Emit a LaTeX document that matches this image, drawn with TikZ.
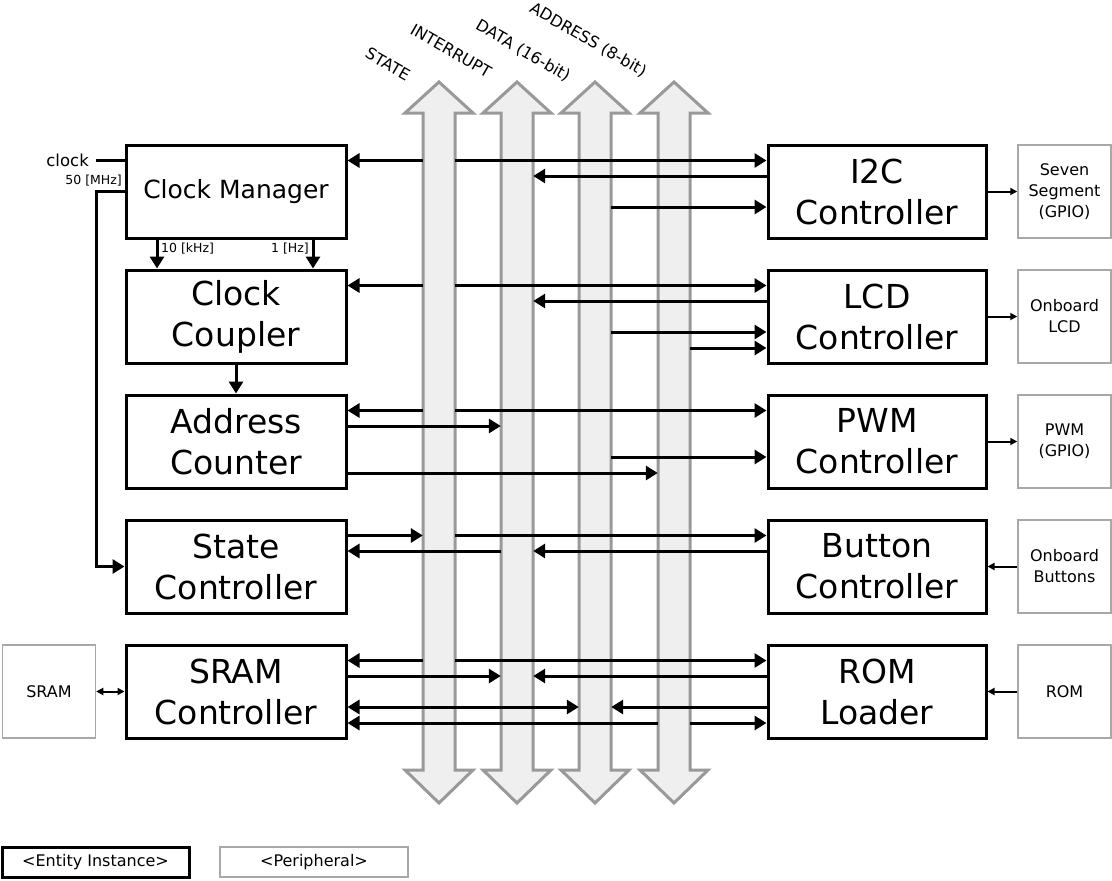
\documentclass[tikz,border=0pt]{standalone}
\usepackage{fontspec}
\setmainfont{DejaVu Sans}
\usetikzlibrary{arrows.meta,positioning,calc}
\definecolor{busgray}{RGB}{153,153,153}
\definecolor{busfill}{RGB}{239,239,239}
\definecolor{perigray}{RGB}{168,168,168}
\tikzset{
  entity/.style={draw=black, line width=3pt, fill=white, align=center,
    minimum width=220pt, minimum height=93pt, inner sep=0pt,
    font=\fontsize{33}{41}\selectfont},
  periph/.style={draw=perigray, line width=1.5pt, fill=white, align=center,
    minimum width=93pt, minimum height=93pt, inner sep=0pt,
    font=\fontsize{16}{21}\selectfont},
  buslabel/.style={rotate=-30, font=\fontsize{16}{19}\selectfont},
  smalllabel/.style={font=\fontsize{12.5}{14}\selectfont, inner sep=1pt},
  bus/.style={draw=busgray, fill=busfill, line width=3pt, line join=miter},
  arr/.style={-{Triangle[length=12pt,width=14pt]}, line width=3pt},
  darr/.style={{Triangle[length=12pt,width=14pt]}-{Triangle[length=12pt,width=14pt]}, line width=3pt},
  thinarr/.style={-{Triangle[length=7pt,width=7pt]}, line width=2pt},
  thindarr/.style={{Triangle[length=7pt,width=7pt]}-{Triangle[length=7pt,width=7pt]}, line width=2pt}
}
\begin{document}
\begin{tikzpicture}[x=1pt,y=-1pt]
  \useasboundingbox (0,0) rectangle (1112,881);
  % buses
  \foreach \cx/\name in {439/bus1,517/bus2,595/bus3,674/bus4}{
    \draw[bus] (\cx-16,113) -- (\cx-34,113) -- (\cx,82) -- (\cx+34,113) -- (\cx+16,113)
      -- (\cx+16,770) -- (\cx+34,770) -- (\cx,803) -- (\cx-34,770) -- (\cx-16,770) -- cycle;
    \node[minimum width=32pt, minimum height=657pt, inner sep=0pt] (\name) at (\cx,441.5) {};
  }
  \node[buslabel] (lstate) at (388,64) {STATE};
  \node[buslabel] (lint) at (451,51) {INTERRUPT};
  \node[buslabel] (ldata) at (523,51) {DATA (16-bit)};
  \node[buslabel] (laddr) at (588,40) {ADDRESS (8-bit)};

  % entity instances
  \node[entity, font=\fontsize{25}{30}\selectfont] (cm) at (236,191.5) {Clock Manager};
  \node[entity] (cc) at (236,316.5) {Clock\\Coupler};
  \node[entity] (ac) at (236,441.5) {Address\\Counter};
  \node[entity] (sc) at (236,566.5) {State\\Controller};
  \node[entity] (sramc) at (236,691.5) {SRAM\\Controller};
  \node[entity, minimum width=218pt] (i2c) at (877,191.5) {I2C\\Controller};
  \node[entity, minimum width=218pt] (lcd) at (877,316.5) {LCD\\Controller};
  \node[entity, minimum width=218pt] (pwm) at (877,441.5) {PWM\\Controller};
  \node[entity, minimum width=218pt] (btn) at (877,566.5) {Button\\Controller};
  \node[entity, minimum width=218pt] (romld) at (877,691.5) {ROM\\Loader};

  % peripherals
  \node[periph] (seg) at (1064.5,191.5) {Seven\\Segment\\(GPIO)};
  \node[periph] (olcd) at (1064.5,316.5) {Onboard\\LCD};
  \node[periph] (pwmio) at (1064.5,441.5) {PWM\\(GPIO)};
  \node[periph] (obtn) at (1064.5,566.5) {Onboard\\Buttons};
  \node[periph] (romchip) at (1064.5,691.5) {ROM};
  \node[periph] (sramchip) at (49,691.5) {SRAM};

  % lanes
  \foreach \rw/\y in {1/145,2/270,3/395,4/520,5/645}{
    \coordinate (lane\rw-a) at (0,\y+15.5);
    \coordinate (lane\rw-b) at (0,\y+31);
    \coordinate (lane\rw-c) at (0,\y+62);
    \coordinate (lane\rw-d) at (0,\y+78);
  }

  % row 1
  \draw[arr] (bus1.west |- lane1-a) -- (cm.east |- lane1-a);
  \draw[arr] (bus1.east |- lane1-a) -- (i2c.west |- lane1-a);
  \draw[arr] (i2c.west |- lane1-b) -- (bus2.east |- lane1-b);
  \draw[arr] (bus3.east |- lane1-c) -- (i2c.west |- lane1-c);
  % row 2
  \draw[arr] (bus1.west |- lane2-a) -- (cc.east |- lane2-a);
  \draw[arr] (bus1.east |- lane2-a) -- (lcd.west |- lane2-a);
  \draw[arr] (lcd.west |- lane2-b) -- (bus2.east |- lane2-b);
  \draw[arr] (bus3.east |- lane2-c) -- (lcd.west |- lane2-c);
  \draw[arr] (bus4.east |- lane2-d) -- (lcd.west |- lane2-d);
  % row 3
  \draw[arr] (bus1.west |- lane3-a) -- (ac.east |- lane3-a);
  \draw[arr] (bus1.east |- lane3-a) -- (pwm.west |- lane3-a);
  \draw[arr] (ac.east |- lane3-b) -- (bus2.west |- lane3-b);
  \draw[arr] (bus3.east |- lane3-c) -- (pwm.west |- lane3-c);
  \draw[arr] (ac.east |- lane3-d) -- (bus4.west |- lane3-d);
  % row 4
  \draw[arr] (sc.east |- lane4-a) -- (bus1.west |- lane4-a);
  \draw[arr] (bus1.east |- lane4-a) -- (btn.west |- lane4-a);
  \draw[arr] (bus2.west |- lane4-b) -- (sc.east |- lane4-b);
  \draw[arr] (btn.west |- lane4-b) -- (bus2.east |- lane4-b);
  % row 5
  \draw[arr] (bus1.west |- lane5-a) -- (sramc.east |- lane5-a);
  \draw[arr] (bus1.east |- lane5-a) -- (romld.west |- lane5-a);
  \draw[arr] (sramc.east |- lane5-b) -- (bus2.west |- lane5-b);
  \draw[arr] (romld.west |- lane5-b) -- (bus2.east |- lane5-b);
  \draw[darr] (sramc.east |- lane5-c) -- (bus3.west |- lane5-c);
  \draw[arr] (romld.west |- lane5-c) -- (bus3.east |- lane5-c);
  \draw[arr] (bus4.west |- lane5-d) -- (sramc.east |- lane5-d);
  \draw[arr] (bus4.east |- lane5-d) -- (romld.west |- lane5-d);

  % clock distribution
  \node[anchor=east, inner xsep=7pt, inner ysep=0pt, font=\fontsize{16.5}{19}\selectfont] (clk) at (96,160) {clock};
  \draw[line width=3pt] (clk.east) -- (cm.west |- clk.east);
  \node[smalllabel, anchor=east] (mhz) at (123,181) {50 [MHz]};
  \coordinate (clkrail) at (96,0);
  \draw[arr] (cm.west) -- (clkrail |- cm.west) -- (clkrail |- sc.west) -- (sc.west);
  \draw[arr] ([xshift=-79pt]cm.south) -- ([xshift=-79pt]cc.north);
  \draw[arr] ([xshift=77pt]cm.south) -- ([xshift=77pt]cc.north);
  \node[smalllabel, anchor=north west] (khz) at ([xshift=-76pt,yshift=-2pt]cm.south) {10 [kHz]};
  \node[smalllabel, anchor=north east] (hz) at ([xshift=74pt,yshift=-2pt]cm.south) {1 [Hz]};
  \draw[arr] (cc.south) -- (ac.north);

  % peripheral links
  \draw[thinarr] (i2c.east) -- (seg.west);
  \draw[thinarr] (lcd.east) -- (olcd.west);
  \draw[thinarr] (pwm.east) -- (pwmio.west);
  \draw[thinarr] (obtn.west) -- (btn.east);
  \draw[thinarr] (romchip.west) -- (romld.east);
  \draw[thindarr] (sramchip.east) -- (sramc.west);

  % legend
  \node[entity, minimum width=187pt, minimum height=30pt, font=\fontsize{16}{19}\selectfont] (lgent) at (95.5,862) {<Entity Instance>};
  \node[periph, minimum width=188pt, minimum height=30pt] (lgper) at (314,862) {<Peripheral>};
\end{tikzpicture}
\end{document}
